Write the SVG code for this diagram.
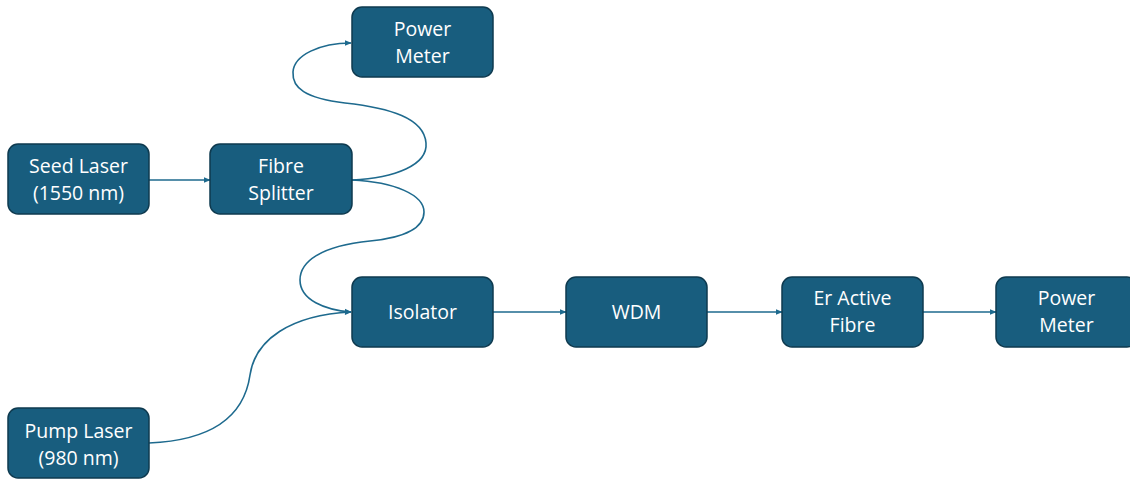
<svg xmlns="http://www.w3.org/2000/svg" width="1130" height="479" viewBox="0 0 1130 479">
  <style>
    .box { fill: #185d7e; stroke: #0e3a4f; stroke-width: 1.5; }
    .lbl { fill: #ffffff; font-family: "Open Sans", "Liberation Sans", sans-serif; font-size: 19.5px; text-anchor: middle; }
    .wire { fill: none; stroke: #1e6a8e; stroke-width: 1.6; marker-end: url(#tip); }
  </style>
  <defs>
    <marker id="tip" viewBox="0 0 10 10" refX="9" refY="5" markerWidth="7" markerHeight="7" markerUnits="userSpaceOnUse" orient="auto">
      <path d="M0,1 L10,5 L0,9 Z" fill="#1e6a8e"/>
    </marker>
  </defs>

  <g id="connectors">
    <line class="wire" x1="149" y1="180" x2="210" y2="180"/>
    <path class="wire" d="M352,180 C395,178 428,165 426,143 C424,118 390,108 345,103 C305,98 292,88 293,72 C294,55 320,43 351,43"/>
    <path class="wire" d="M352,180 C395,182 424,195 424,212 C424,230 400,238 370,241 C320,246 300,262 300,280 C300,300 325,310 351,312"/>
    <path class="wire" d="M149,443 C220,440 245,410 250,375 C255,340 290,315 351,312"/>
    <line class="wire" x1="493" y1="312" x2="566" y2="312"/>
    <line class="wire" x1="707" y1="312" x2="782" y2="312"/>
    <line class="wire" x1="923" y1="312" x2="996" y2="312"/>
  </g>

  <g id="seed-laser">
    <rect class="box" x="8" y="144" width="141" height="70" rx="10"/>
    <text class="lbl" x="78.5" y="173">Seed Laser</text>
    <text class="lbl" x="78.5" y="200">(1550 nm)</text>
  </g>
  <g id="fibre-splitter">
    <rect class="box" x="210" y="144" width="142" height="70" rx="10"/>
    <text class="lbl" x="281" y="173">Fibre</text>
    <text class="lbl" x="281" y="200">Splitter</text>
  </g>
  <g id="power-meter-tap">
    <rect class="box" x="352" y="7" width="141" height="70" rx="10"/>
    <text class="lbl" x="422.5" y="36">Power</text>
    <text class="lbl" x="422.5" y="63">Meter</text>
  </g>
  <g id="isolator">
    <rect class="box" x="352" y="277" width="141" height="70" rx="10"/>
    <text class="lbl" x="422.5" y="319">Isolator</text>
  </g>
  <g id="pump-laser">
    <rect class="box" x="8" y="408" width="141" height="70" rx="10"/>
    <text class="lbl" x="78.5" y="438">Pump Laser</text>
    <text class="lbl" x="78.5" y="465">(980 nm)</text>
  </g>
  <g id="wdm">
    <rect class="box" x="566" y="277" width="141" height="70" rx="10"/>
    <text class="lbl" x="636.5" y="319">WDM</text>
  </g>
  <g id="er-active-fibre">
    <rect class="box" x="782" y="277" width="141" height="70" rx="10"/>
    <text class="lbl" x="852.5" y="305">Er Active</text>
    <text class="lbl" x="852.5" y="332">Fibre</text>
  </g>
  <g id="power-meter-out">
    <rect class="box" x="996" y="277" width="141" height="70" rx="10"/>
    <text class="lbl" x="1066.5" y="305">Power</text>
    <text class="lbl" x="1066.5" y="332">Meter</text>
  </g>
</svg>
